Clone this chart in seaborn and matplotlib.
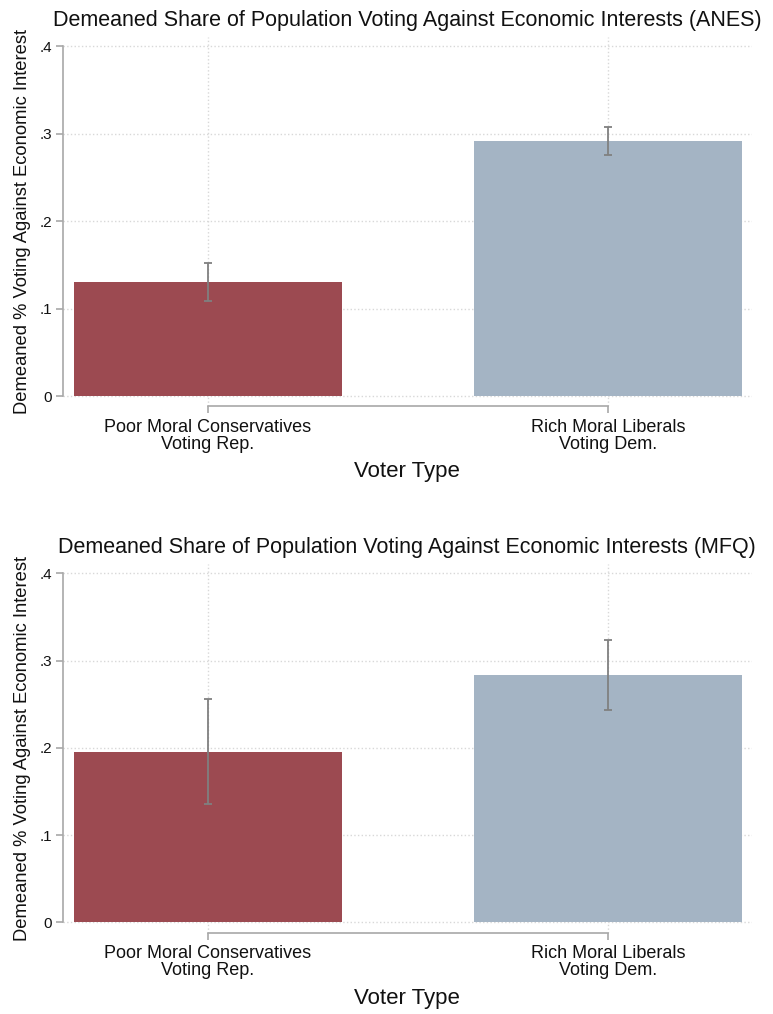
import numpy as np
import pandas as pd
import matplotlib
matplotlib.use("Agg")
import matplotlib.pyplot as plt
import seaborn as sns

# values
voter_types = ["Poor Moral Conservatives\nVoting Rep.", "Rich Moral Liberals\nVoting Dem."]
anes_share = [0.130, 0.291]
anes_lo = [0.109, 0.275]
anes_hi = [0.152, 0.308]
mfq_share = [0.195, 0.283]
mfq_lo = [0.135, 0.243]
mfq_hi = [0.256, 0.324]
y_ticks = [0, 0.1, 0.2, 0.3, 0.4]
y_ticklabels = ["0", ".1", ".2", ".3", ".4"]

bar_colors = ["#9c4a51", "#a4b4c4"]

sns.set_theme(style="white")
plt.rcParams["font.family"] = ["Liberation Sans", "DejaVu Sans"]

fig = plt.figure(figsize=(7.73, 10.14), dpi=100)
ax_top = fig.add_axes([0.0815, 0.5996, 0.891, 0.3639])
ax_bot = fig.add_axes([0.0815, 0.0799, 0.891, 0.3639])


def draw_panel(ax, share, lo, hi, title, ylim):
    df = pd.DataFrame({"type": voter_types, "share": share})
    sns.barplot(data=df, x="type", y="share", hue="type", palette=bar_colors,
                width=0.67, errorbar=None, legend=False, saturation=1,
                linewidth=0, ax=ax, zorder=2)
    share = np.array(share)
    yerr = [share - np.array(lo), np.array(hi) - share]
    ax.errorbar(range(len(share)), share, yerr=yerr, fmt="none",
                ecolor="#808080", elinewidth=1.3, capsize=3, capthick=1.3,
                zorder=3)
    ax.set_xlim(-0.3625, 1.36)
    ax.set_ylim(*ylim)
    ax.set_yticks(y_ticks)
    ax.set_yticklabels(y_ticklabels, fontsize=11)
    ax.tick_params(axis="x", labelsize=13, length=5, width=1.2,
                   color="#a8a8a8", pad=4, bottom=True, labelcolor="#111111")
    ax.tick_params(axis="y", length=5, width=1.2, color="#a8a8a8",
                   pad=3, left=True, labelcolor="#111111")
    for lbl in ax.get_xticklabels():
        lbl.set_linespacing(1.0)
    ax.grid(True, linestyle=":", color="#d8d8d8", linewidth=1, zorder=0)
    ax.set_axisbelow(True)
    for s in ["top", "right"]:
        ax.spines[s].set_visible(False)
    ax.spines["left"].set_bounds(0, 0.4)
    ax.spines["bottom"].set_bounds(0, 1)
    for s in ["left", "bottom"]:
        ax.spines[s].set_color("#a8a8a8")
        ax.spines[s].set_linewidth(1.2)
    ax.set_xlabel("Voter Type", fontsize=16, labelpad=6, color="#111111")
    ax.set_ylabel("Demeaned % Voting Against Economic Interest", fontsize=13.2,
                  labelpad=6, color="#111111")
    ax.set_title(title, fontsize=15.5, pad=8, color="#111111")


draw_panel(ax_top, anes_share, anes_lo, anes_hi,
           "Demeaned Share of Population Voting Against Economic Interests (ANES)",
           (-0.0114, 0.4103))
draw_panel(ax_bot, mfq_share, mfq_lo, mfq_hi,
           "Demeaned Share of Population Voting Against Economic Interests (MFQ)",
           (-0.0123, 0.4107))

fig.savefig("out.png", dpi=100)
